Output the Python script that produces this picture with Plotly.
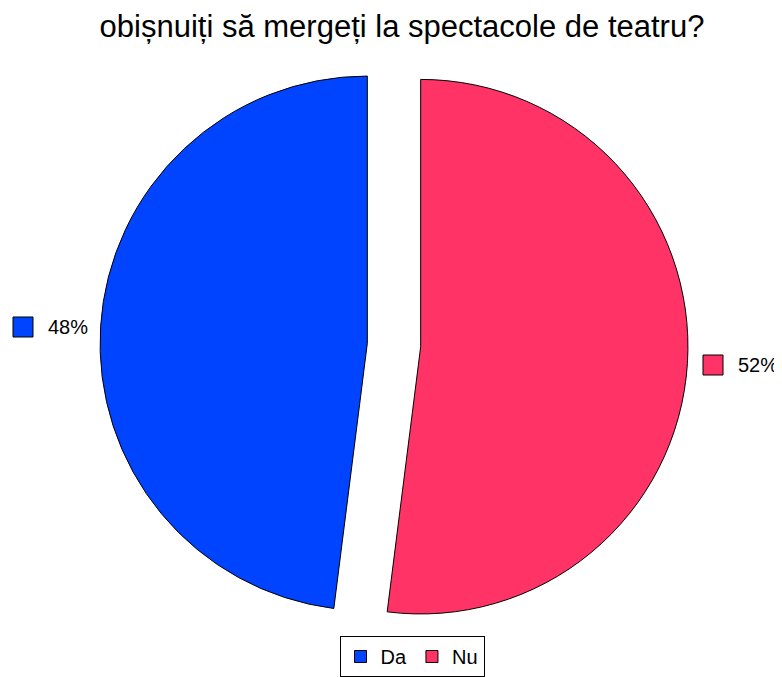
import plotly.graph_objects as go

# survey answers and shares (percent)
labels = ["Da", "Nu"]
values = [48, 52]
colors = ["#0044ff", "#ff3366"]
title = "obișnuiți să mergeți la spectacole de teatru?"

W, H = 782, 677
OFF = 8  # the page body adds an 8px margin; positions below are in screen px

total = sum(values)


def px(x):
    return (x - OFF) / W


def py(y):
    return 1 - (y - OFF) / H


fig = go.Figure()
fig.add_trace(
    go.Pie(
        labels=labels,
        values=values,
        sort=False,
        direction="clockwise",
        # first slice ("Da") ends at 12 o'clock, so it sits on the left
        rotation=-values[0] / total * 360,
        pull=[0.1, 0.1],
        marker=dict(colors=colors, line=dict(color="#000000", width=1)),
        textinfo="none",
        hoverinfo="label+percent",
        domain=dict(x=[px(100), px(688)], y=[py(639), py(51)]),
    )
)

# outside percentage labels with a small colour square, as in the original
label_pos = [(13, 327), (703, 365)]  # square left x, centre y (screen px)
for (sx, cy), v, c in zip(label_pos, values, colors):
    fig.add_shape(
        type="rect", xref="paper", yref="paper",
        x0=px(sx), x1=px(sx + 20), y0=py(cy + 10), y1=py(cy - 10),
        fillcolor=c, line=dict(color="#000000", width=1),
    )
    fig.add_annotation(
        x=px(sx + 33), y=py(cy), xref="paper", yref="paper",
        text=f"{v / total * 100:.0f}%", showarrow=False, xanchor="left", yanchor="middle",
        font=dict(size=20, color="#000000"),
    )

fig.update_layout(
    width=W,
    height=H,
    margin=dict(l=0, r=0, t=0, b=0),
    paper_bgcolor="#ffffff",
    plot_bgcolor="#ffffff",
    font=dict(family="Liberation Sans, Arial, sans-serif", color="#000000"),
    title=dict(text=title, x=px(402), xanchor="center", y=py(26), yanchor="middle",
               font=dict(size=31, color="#000000")),
    showlegend=True,
    legend=dict(
        orientation="h",
        x=px(412), xanchor="center",
        y=py(636), yanchor="top",
        bordercolor="#000000", borderwidth=1,
        font=dict(size=20, color="#000000"),
        itemwidth=30,
    ),
)

fig.write_html("out.html")
